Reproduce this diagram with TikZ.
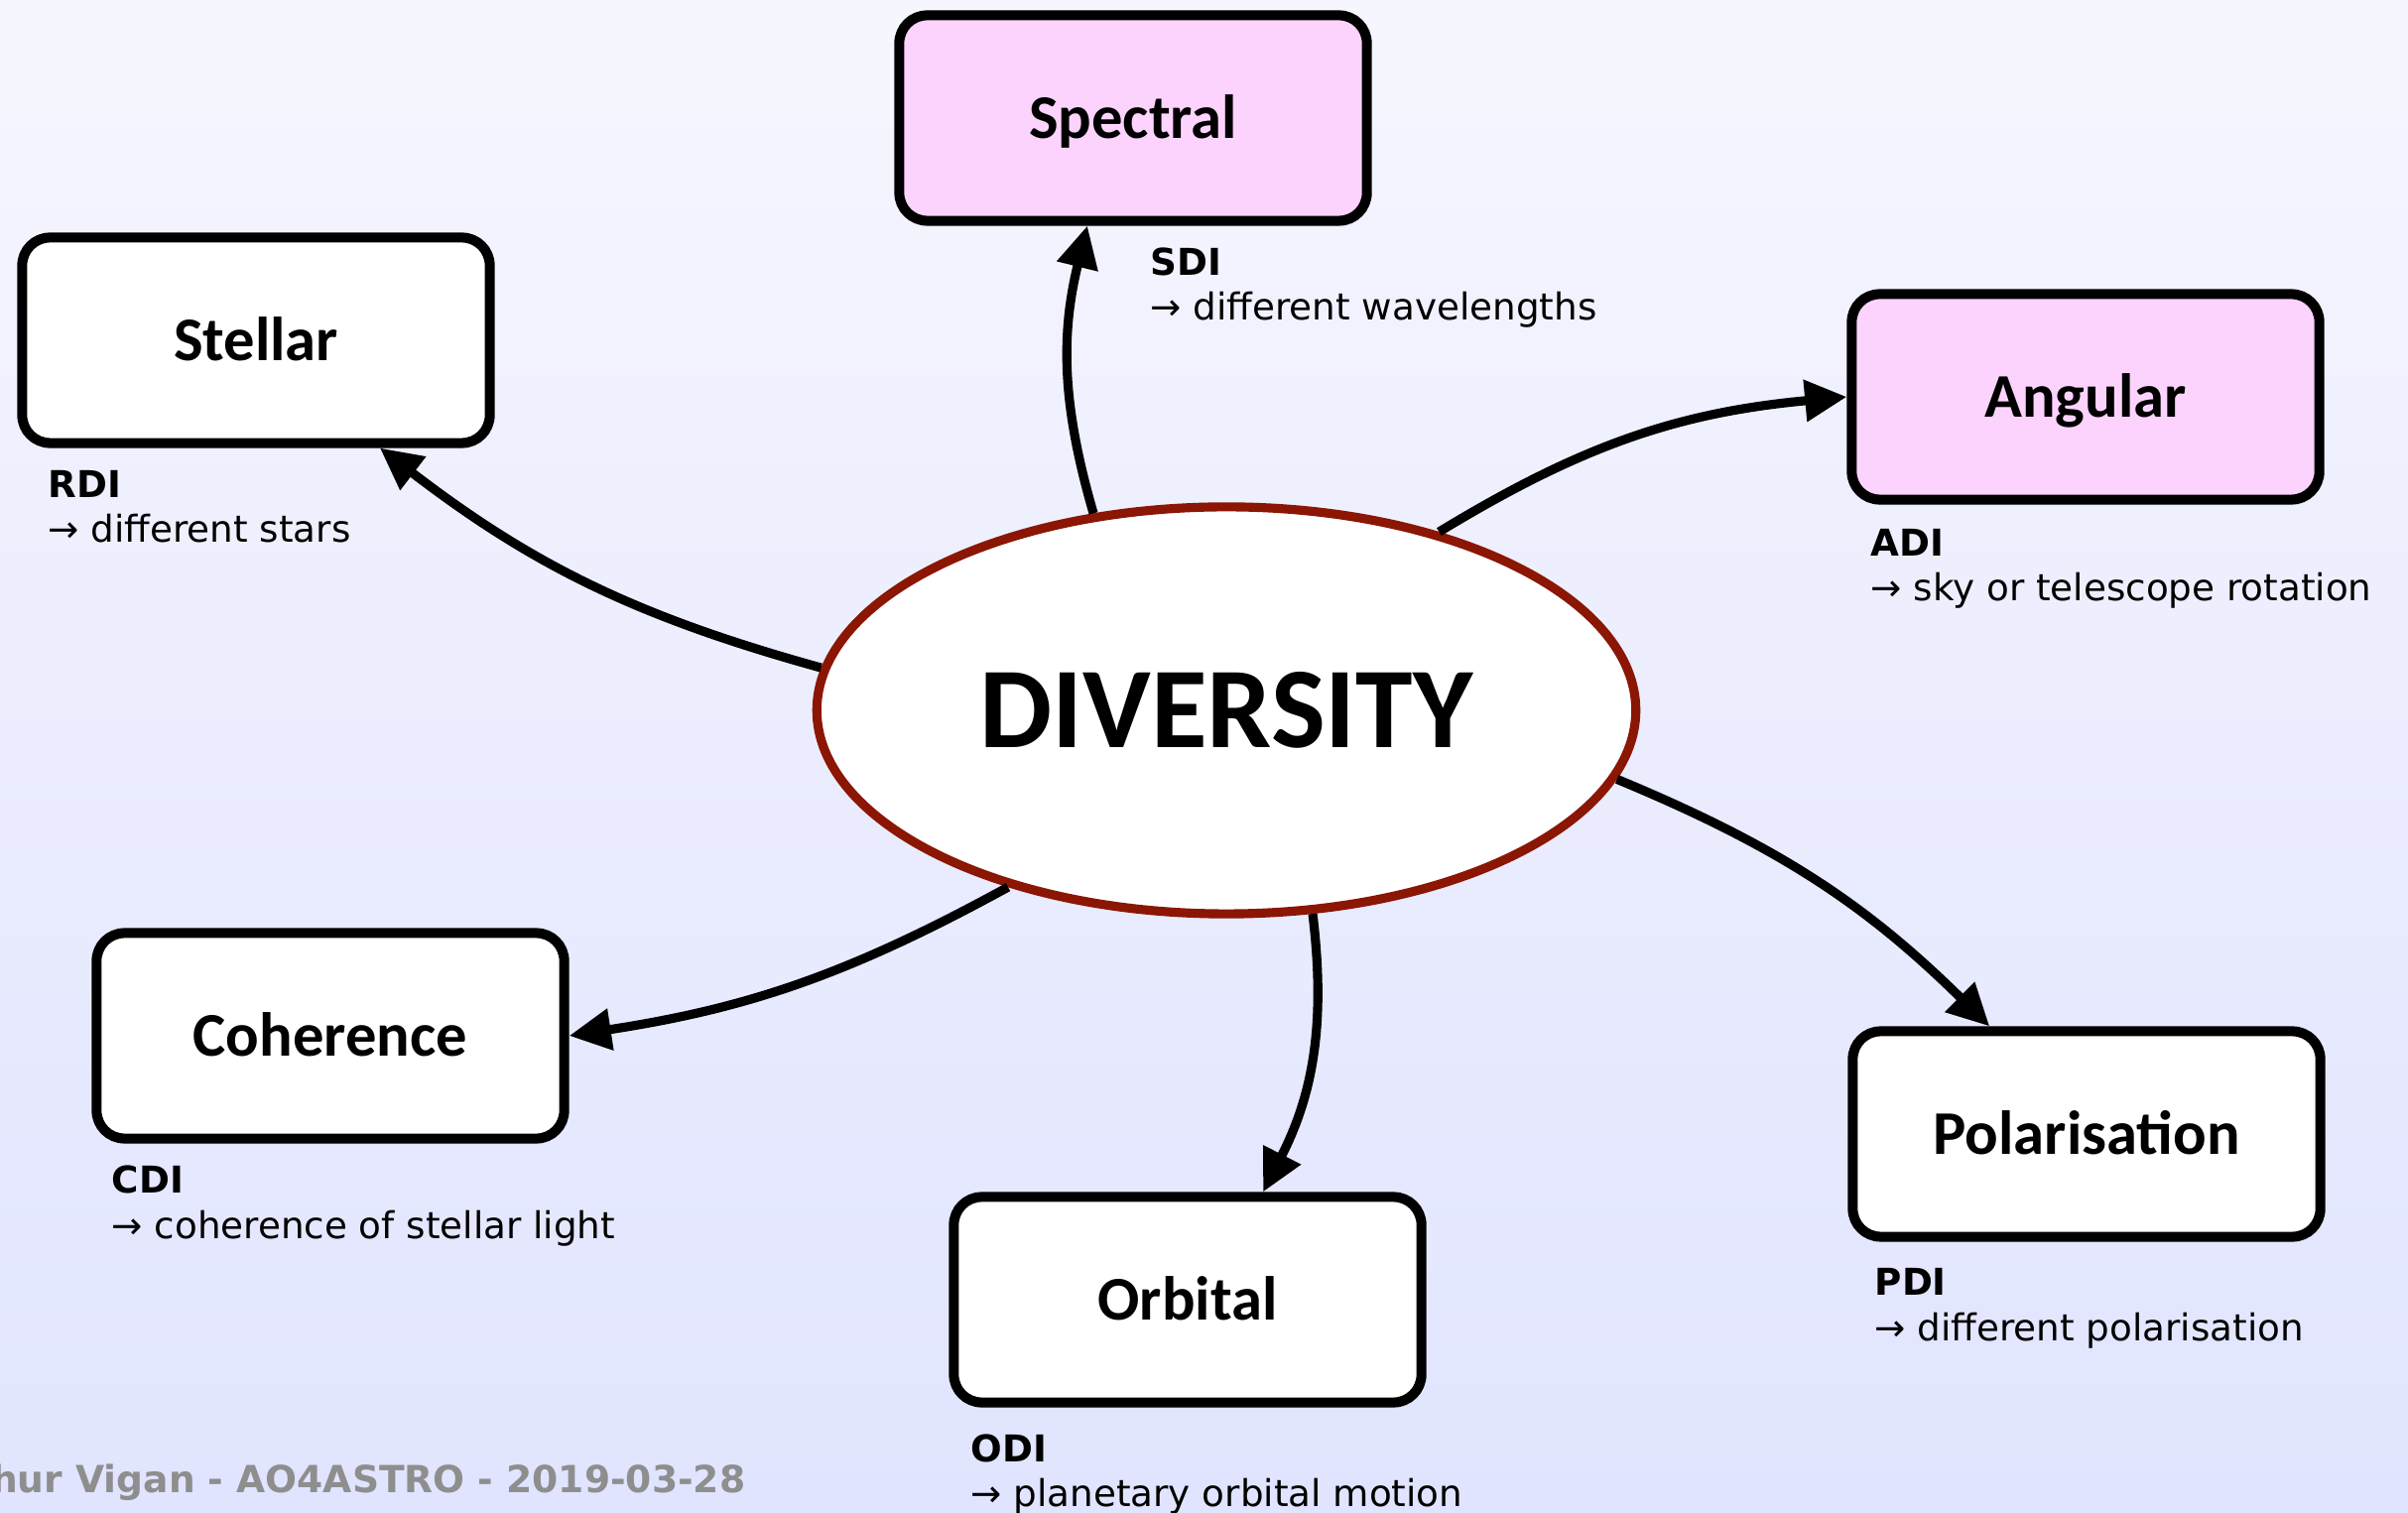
\documentclass[tikz,border=0pt]{standalone}
\usepackage{fontspec}
\setmainfont{DejaVu Sans}
\newfontfamily\boxfont{Carlito}
\usetikzlibrary{arrows.meta, shapes.geometric, shadows}
\definecolor{bgtop}{RGB}{246,246,254}
\definecolor{bgbottom}{RGB}{224,228,254}
\definecolor{pinkfill}{RGB}{252,211,252}
\definecolor{darkred}{RGB}{139,22,4}
\definecolor{footgray}{RGB}{142,142,142}
\newcommand{\methodnote}[2]{\begin{tabular}[t]{@{}l@{}}\textbf{#1}\\→ #2\end{tabular}}

\begin{document}
\begin{tikzpicture}[x=0.01cm, y=0.01cm,
    method/.style={draw, line width=2.85pt, rounded corners=8pt, fill=white,
      minimum width=4.71cm, minimum height=2.07cm, inner sep=0pt,
      text height=11.5pt, text depth=0pt,
      font=\boxfont\bfseries\fontsize{17.8}{21}\selectfont,
      drop shadow={shadow xshift=0.3pt, shadow yshift=-1.6pt, opacity=0.18}},
    hilite/.style={method, fill=pinkfill},
    note/.style={anchor=base west, inner sep=0pt, font=\fontsize{10.6}{12.8}\selectfont},
    link/.style={line width=2.6pt, -{Triangle[length=12pt, width=11.5pt]}}]
    \useasboundingbox (0,0) rectangle (2427,1524);
    \shade[top color=bgtop, bottom color=bgbottom] (0,0) rectangle (2427,1524);

    %define the centre and the methods
    \node[ellipse, draw=darkred, line width=2.6pt, fill=white, minimum width=8.25cm,
          minimum height=4.1cm, inner sep=0pt, text height=21.3pt, text depth=0pt,
          font=\boxfont\bfseries\fontsize{33}{40}\selectfont] (div) at (1236,808) {DIVERSITY};
    \node[hilite] (spectral)  at (1142,1405) {Spectral};
    \node[method] (stellar)   at (258,1181)  {Stellar};
    \node[hilite] (angular)   at (2102,1124) {Angular};
    \node[method] (coherence) at (333,480)   {Coherence};
    \node[method] (orbital)   at (1197,214)  {Orbital};
    \node[method] (polar)     at (2103,381)  {Polarisation};

    %define the notes
    \node[note] (sdi) at (1159,1246) {\methodnote{SDI}{different wavelengths}};
    \node[note] (rdi) at (48,1022)   {\methodnote{RDI}{different stars}};
    \node[note] (adi) at (1885,963)  {\methodnote{ADI}{sky or telescope rotation}};
    \node[note] (cdi) at (112,321)   {\methodnote{CDI}{coherence of stellar light}};
    \node[note] (odi) at (978,51)    {\methodnote{ODI}{planetary orbital motion}};
    \node[note] (pdi) at (1889,218)  {\methodnote{PDI}{different polarisation}};
    \node[anchor=base east, inner sep=0pt, text=footgray,
          font=\bfseries\fontsize{10.7}{12.8}\selectfont] (footer) at (752,19)
          {hur Vigan - AO4ASTRO - 2019-03-28};

    %define the links
    \path[link] (div.174) edge[bend left=11] (stellar.-41)
                (div.124) edge[bend left=15] (spectral.-113)
                (div.40)  edge[bend left=13] (angular.west)
                (div.-10) edge[bend left=11] (polar.132)
                (div.-67) edge[bend left=17] (orbital.55)
                (div.219) edge[bend left=10] (coherence.east);
\end{tikzpicture}
\end{document}
